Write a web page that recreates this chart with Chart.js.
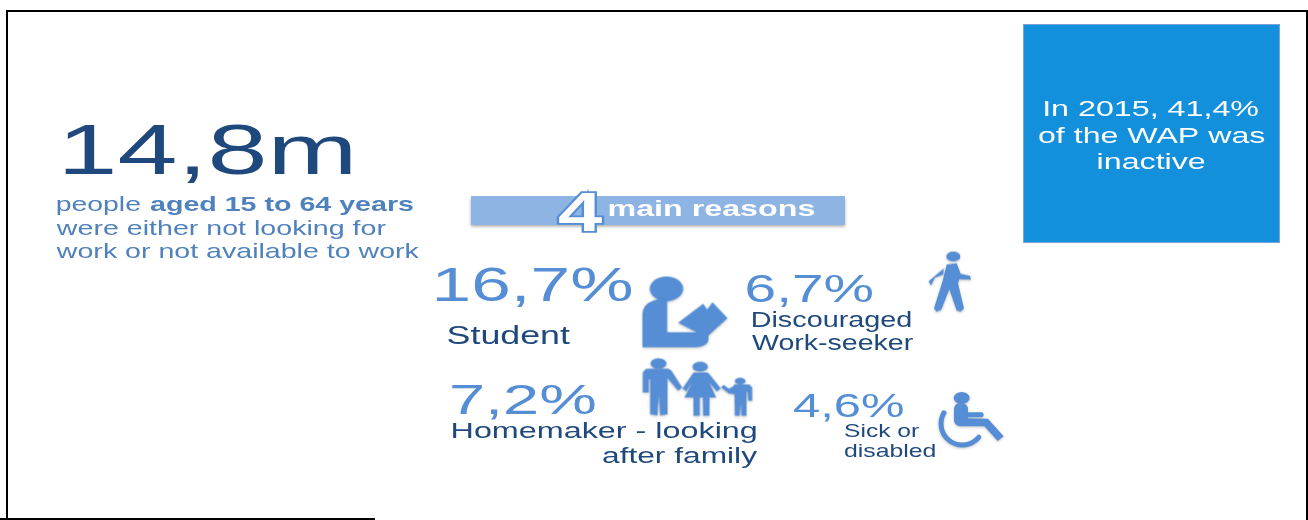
<!DOCTYPE html>
<html>
<head>
<meta charset="utf-8">
<title>Inactive population, 2015</title>
<style>
  html, body { margin: 0; padding: 0; background: #fff; }
  canvas { display: block; }
</style>
<script src="https://cdn.jsdelivr.net/npm/chart.js@4/dist/chart.umd.min.js"></script>
</head>
<body>
<canvas id="inactive_chart" width="1308" height="520"></canvas>
<script>
// Values
var surveyYear = 2015;
var inactiveShare = [41.4];
var inactiveMillions = [14.8];
var reasonCount = [4];
var reasonNames = [["Student"], ["Discouraged", "Work-seeker"], ["Homemaker - looking", "after family"], ["Sick or", "disabled"]];
var reasonShares = [16.7, 6.7, 7.2, 4.6];

var NAVY = '#1F497D', STEEL = '#4F81BD', SKY = '#558ED5', PALE = '#8EB4E3', BOX = '#1290DC';
var FONT = '"Liberation Sans", Arial, sans-serif';

function comma(v) { return v.toFixed(1).replace('.', ','); }

// Icons are sketched on a 3-units-per-pixel grid, then placed as point styles
function makeIcon(box, paint) {
    var c = document.createElement('canvas');
    c.width = Math.ceil((box[2] - box[0]) / 3);
    c.height = Math.ceil((box[3] - box[1]) / 3);
    var g = c.getContext('2d');
    g.scale(1 / 3, 1 / 3);
    g.translate(-box[0], -box[1]);
    g.fillStyle = SKY;
    g.strokeStyle = SKY;
    g.lineJoin = 'round';
    g.lineCap = 'round';
    g.shadowColor = 'rgba(40,40,40,0.28)';
    g.shadowBlur = 3;
    g.shadowOffsetY = 1;
    paint(g);
    return c;
}
function poly(g, pts) {
    g.beginPath();
    pts.forEach(function(p, i) { i ? g.lineTo(p[0], p[1]) : g.moveTo(p[0], p[1]); });
    g.closePath();
    g.fill();
}
function head(g, x, y, rx, ry) {
    g.beginPath();
    g.ellipse(x, y, rx, ry, 0, 0, Math.PI * 2);
    g.fill();
}

var readerIcon = makeIcon([620, 255, 910, 500], function(g) {
    head(g, 710, 310, 50, 37);
    g.beginPath();
    g.moveTo(638, 485);
    g.lineTo(638, 385);
    g.quadraticCurveTo(640, 345, 700, 340);
    g.lineTo(712, 345);
    g.lineTo(712, 440);
    g.lineTo(800, 440);
    g.lineTo(745, 412);
    g.lineTo(820, 355);
    g.lineTo(832, 372);
    g.lineTo(848, 350);
    g.lineTo(893, 398);
    g.lineTo(836, 450);
    g.lineTo(836, 462);
    g.quadraticCurveTo(834, 483, 800, 485);
    g.closePath();
    g.fill();
});

var walkerIcon = makeIcon([585, 25, 735, 230], function(g) {
    head(g, 670, 52, 21, 15);
    poly(g, [[650, 76], [680, 72], [692, 104], [720, 110], [723, 122], [688, 120], [684, 132],
             [702, 208], [692, 218], [680, 214], [658, 150], [634, 212], [620, 218], [612, 208], [638, 125]]);
    poly(g, [[641, 88], [596, 126], [603, 139], [615, 116], [640, 106]]);
});

var familyIcon = makeIcon([595, 10, 945, 205], function(g) {
    // father
    head(g, 655, 40, 24, 16);
    poly(g, [[618, 56], [686, 56], [694, 62], [726, 112], [714, 122], [682, 84], [682, 130], [682, 192], [660, 196],
             [656, 135], [652, 196], [630, 192], [630, 88], [626, 88], [626, 127], [608, 127], [608, 66]]);
    // mother
    head(g, 780, 50, 23, 15);
    poly(g, [[760, 67], [802, 67], [808, 72], [842, 115], [830, 124], [808, 98], [828, 142], [808, 142], [808, 197],
             [789, 197], [788, 142], [779, 142], [779, 197], [760, 197], [760, 142], [733, 142], [756, 96], [738, 124], [727, 115]]);
    // child
    head(g, 900, 93, 16, 10);
    poly(g, [[882, 103], [928, 103], [936, 112], [936, 152], [924, 152], [922, 125], [919, 125], [919, 197], [904, 197],
             [901, 160], [899, 197], [884, 197], [883, 132], [866, 130], [843, 112], [850, 104], [866, 116], [880, 108]]);
});

var wheelchairIcon = makeIcon([615, 445, 835, 630], function(g) {
    head(g, 698, 475, 24, 18);
    g.beginPath();
    g.moveTo(675, 510);
    g.quadraticCurveTo(675, 490, 695, 490);
    g.quadraticCurveTo(717, 490, 717, 510);
    g.lineTo(717, 518);
    g.lineTo(760, 518);
    g.quadraticCurveTo(768, 525, 760, 533);
    g.lineTo(717, 533);
    g.lineTo(717, 536);
    g.lineTo(777, 537);
    g.lineTo(824, 590);
    g.lineTo(806, 604);
    g.lineTo(766, 560);
    g.lineTo(695, 560);
    g.quadraticCurveTo(675, 558, 675, 540);
    g.closePath();
    g.fill();
    // wheel rim
    g.lineWidth = 15;
    g.beginPath();
    g.arc(700, 552, 64, Math.PI * 0.22, Math.PI * 1.17);
    g.stroke();
});

var icons = [readerIcon, walkerIcon, familyIcon, wheelchairIcon];
var iconSpots = [
    { x: 685, y: 311.5 },
    { x: 950, y: 282 },
    { x: 697, y: 386 },
    { x: 971, y: 419 }
];

// Text whose inked extent runs from x0 to x1 on the given baseline
function drawFitted(ctx, chart, t) {
    var sx = chart.scales.x, sy = chart.scales.y;
    var x0 = sx.getPixelForValue(t.x0), x1 = sx.getPixelForValue(t.x1), y = sy.getPixelForValue(t.y);
    ctx.save();
    ctx.font = (t.bold ? 'bold ' : '') + t.size + 'px ' + FONT;
    ctx.textBaseline = 'alphabetic';
    ctx.textAlign = 'left';
    var m = ctx.measureText(t.text);
    var ink = m.actualBoundingBoxRight + m.actualBoundingBoxLeft;
    var stretch = (x1 - x0) / ink;
    ctx.translate(x0 + m.actualBoundingBoxLeft * stretch, y);
    ctx.scale(stretch, 1);
    if (t.outline) {
        ctx.strokeStyle = t.outline;
        ctx.lineWidth = 3.5;
        ctx.lineJoin = 'miter';
        ctx.strokeText(t.text, 0, 0);
    }
    ctx.fillStyle = t.color;
    ctx.fillText(t.text, 0, 0);
    ctx.restore();
}

var textRuns = [
    { text: comma(inactiveMillions[0]) + 'm', x0: 65, x1: 351, y: 174, size: 71, color: NAVY },
    { text: 'people', x0: 57, x1: 140, y: 210.5, size: 21, color: STEEL },
    { text: 'aged 15 to 64 years', bold: true, x0: 150, x1: 413, y: 210.5, size: 21, color: STEEL },
    { text: 'were either not looking for', x0: 55.5, x1: 386, y: 234.5, size: 21, color: STEEL },
    { text: 'work or not available to work', x0: 55.5, x1: 419.5, y: 258, size: 21, color: STEEL },

    { text: 'In ' + surveyYear + ', ' + comma(inactiveShare[0]) + '%', x0: 1045, x1: 1259, y: 116, size: 22.5, color: '#fff' },
    { text: 'of the WAP was', x0: 1038, x1: 1265, y: 142.5, size: 22.5, color: '#fff' },
    { text: 'inactive', x0: 1098, x1: 1205, y: 169, size: 22.5, color: '#fff' },

    { text: String(reasonCount[0]), bold: true, x0: 558, x1: 602, y: 231, size: 56, color: '#fff', outline: SKY },
    { text: 'main reasons', bold: true, x0: 609, x1: 815, y: 215.5, size: 22, color: '#fff' },

    { text: comma(reasonShares[0]) + '%', x0: 436, x1: 631, y: 301, size: 48, color: SKY },
    { text: reasonNames[0][0], x0: 448, x1: 570, y: 344, size: 25, color: NAVY },

    { text: comma(reasonShares[1]) + '%', x0: 746, x1: 873, y: 302, size: 39, color: SKY },
    { text: reasonNames[1][0], x0: 752, x1: 911, y: 327, size: 21.5, color: NAVY },
    { text: reasonNames[1][1], x0: 752, x1: 913, y: 350, size: 21.5, color: NAVY },

    { text: comma(reasonShares[2]) + '%', x0: 452, x1: 595, y: 414, size: 43, color: SKY },
    { text: reasonNames[2][0], x0: 452, x1: 756, y: 438, size: 22, color: NAVY },
    { text: reasonNames[2][1], x0: 602, x1: 757, y: 463, size: 22, color: NAVY },

    { text: comma(reasonShares[3]) + '%', x0: 793, x1: 904, y: 416.5, size: 33, color: SKY },
    { text: reasonNames[3][0], x0: 844, x1: 919, y: 437, size: 18.5, color: NAVY },
    { text: reasonNames[3][1], x0: 844, x1: 936, y: 457, size: 18.5, color: NAVY }
];

var sheetPlugin = {
    id: 'sheet',
    beforeDatasetsDraw: function(chart) {
        var ctx = chart.ctx, sx = chart.scales.x, sy = chart.scales.y;
        function rect(x0, y0, x1, y1) {
            var px = sx.getPixelForValue(x0), py = sy.getPixelForValue(y0);
            return [px, py, sx.getPixelForValue(x1) - px, sy.getPixelForValue(y1) - py];
        }
        var r;
        ctx.save();
        // slide frame
        ctx.fillStyle = '#000';
        r = rect(6, 10, 1308, 12); ctx.fillRect(r[0], r[1], r[2], r[3]);
        r = rect(6, 10, 8, 520); ctx.fillRect(r[0], r[1], r[2], r[3]);
        r = rect(1306, 10, 1308, 520); ctx.fillRect(r[0], r[1], r[2], r[3]);
        r = rect(0, 518, 375, 520); ctx.fillRect(r[0], r[1], r[2], r[3]);

        // callout box
        r = rect(1023.5, 24.5, 1279.5, 242.5);
        ctx.fillStyle = BOX;
        ctx.fillRect(r[0], r[1], r[2], r[3]);
        ctx.strokeStyle = '#7FA3D6';
        ctx.lineWidth = 1;
        ctx.strokeRect(r[0], r[1], r[2], r[3]);

        // banner behind the "main reasons" heading
        r = rect(471, 196, 845, 225);
        ctx.shadowColor = 'rgba(40,40,40,0.4)';
        ctx.shadowBlur = 3;
        ctx.shadowOffsetY = 1.5;
        ctx.fillStyle = PALE;
        ctx.fillRect(r[0], r[1], r[2], r[3]);
        ctx.restore();
    },
    afterDatasetsDraw: function(chart) {
        textRuns.forEach(function(t) { drawFitted(chart.ctx, chart, t); });
    }
};

var ctx = document.getElementById('inactive_chart').getContext('2d');
new Chart(ctx, {
    type: 'scatter',
    data: {
        labels: reasonNames.map(function(n) { return n.join(' '); }),
        datasets: [{
            label: 'Reasons',
            data: iconSpots,
            pointStyle: function(c) { return icons[c.dataIndex]; },
            showLine: false
        }]
    },
    options: {
        responsive: false,
        animation: false,
        layout: { padding: 0, autoPadding: false },
        plugins: { legend: { display: false }, tooltip: { enabled: false } },
        scales: {
            x: { type: 'linear', display: false, min: 0, max: 1308 },
            y: { type: 'linear', display: false, min: 0, max: 520, reverse: true }
        }
    },
    plugins: [sheetPlugin]
});
</script>
</body>
</html>
